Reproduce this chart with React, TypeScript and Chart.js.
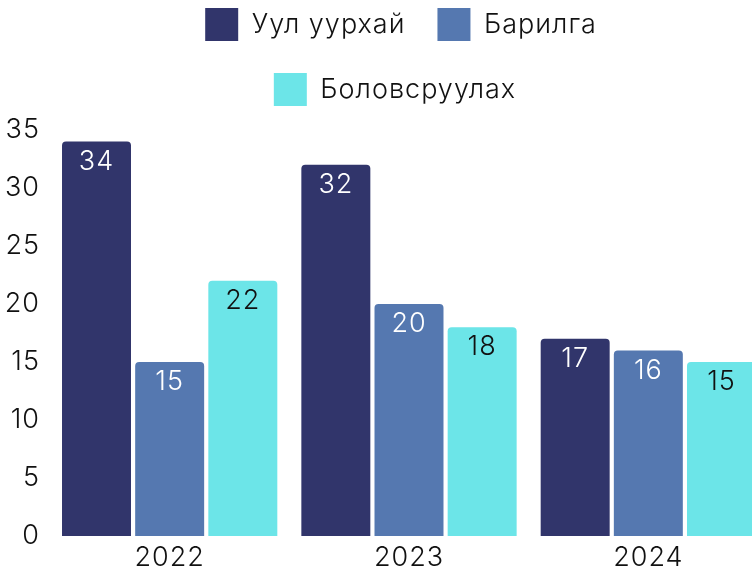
import React, { useEffect, useRef } from "react";
import { Chart, registerables } from "chart.js";

Chart.register(...registerables);

const categories = ["2022", "2023", "2024"];
const seriesNames = ["Уул уурхай", "Барилга", "Боловсруулах"];
const miningValues = [34, 32, 17];
const constructionValues = [15, 20, 16];
const manufacturingValues = [22, 18, 15];
const seriesColors = ["#31356b", "#5578b0", "#6ce5e8"];
const labelColors = ["#ffffff", "#ffffff", "#111111"];
const yTicks = [0, 5, 10, 15, 20, 25, 30, 35];

const FONT = "Inter";
const FS = 27;
const WEIGHT = "300";
const SPACING = "1px";

export default function App() {
  const ref = useRef<HTMLCanvasElement>(null);

  useEffect(() => {
    const canvas = ref.current;
    if (!canvas) return;

    const dataLabels = {
      id: "dataLabels",
      afterDatasetsDraw(chart: any) {
        const ctx = chart.ctx;
        ctx.save();
        ctx.font = `${WEIGHT} ${FS}px ${FONT}`;
        ctx.textAlign = "center";
        ctx.textBaseline = "middle";
        chart.data.datasets.forEach((ds: any, di: number) => {
          const meta = chart.getDatasetMeta(di);
          meta.data.forEach((el: any, i: number) => {
            ctx.fillStyle = labelColors[di];
            ctx.fillText(String(ds.data[i]), el.x, el.y + 20);
          });
        });
        ctx.restore();
      },
    };

    const spacing = {
      id: "spacing",
      beforeLayout(chart: any) {
        chart.ctx.letterSpacing = SPACING;
      },
      beforeDraw(chart: any) {
        chart.ctx.letterSpacing = SPACING;
      },
    };

    const rowShift = [34, 22];
    const legendPatch = {
      id: "legendPatch",
      afterInit(chart: any) {
        const lg = chart.legend;
        if (!lg || lg._patched) return;
        const orig = lg.fit.bind(lg);
        lg.fit = function () {
          const mw = this.maxWidth;
          this.maxWidth = 640;
          orig();
          this.maxWidth = mw;
          this.width = mw;
          this.height = 154;
          this.lineWidths = this.lineWidths.map(
            (w: number, i: number) => w - (rowShift[i] || 0)
          );
        };
        lg._patched = true;
      },
    };

    const chart = new Chart(canvas, {
      type: "bar",
      data: {
        labels: categories,
        datasets: [miningValues, constructionValues, manufacturingValues].map(
          (vals, i) => ({
            label: seriesNames[i],
            data: vals,
            backgroundColor: seriesColors[i],
            borderRadius: 4,
            borderSkipped: "bottom",
            categoryPercentage: 0.917,
            barPercentage: 0.943,
          })
        ),
      },
      options: {
        responsive: false,
        animation: false,
        layout: { padding: { left: 0, right: 32, top: 0, bottom: 0 } },
        plugins: {
          tooltip: { enabled: false },
          legend: {
            display: true,
            position: "top",
            align: "center",
            labels: {
              boxWidth: 33,
              boxHeight: 33,
              padding: 32,
              color: "#111111",
              font: { family: FONT, size: FS, weight: WEIGHT },
            },
          },
        },
        scales: {
          x: {
            grid: { display: false, drawTicks: false },
            border: { display: false },
            ticks: {
              color: "#111111",
              padding: 6,
              font: { family: FONT, size: FS, weight: WEIGHT },
            },
            afterFit(scale: any) {
              scale.height = 38;
            },
          },
          y: {
            min: 0,
            max: 35,
            grid: { display: false, drawTicks: false },
            border: { display: false },
            afterBuildTicks(scale: any) {
              scale.ticks = yTicks.map((v) => ({ value: v }));
            },
            ticks: {
              color: "#111111",
              padding: 10,
              font: { family: FONT, size: FS, weight: WEIGHT },
            },
            afterFit(scale: any) {
              scale.width = 50;
            },
          },
        },
      },
      plugins: [spacing, dataLabels, legendPatch],
    } as any);

    return () => chart.destroy();
  }, []);

  return (
    <div
      style={{
        position: "fixed",
        left: 0,
        top: 0,
        width: 752,
        height: 574,
        overflow: "hidden",
        background: "#ffffff",
      }}
    >
      <canvas
        ref={ref}
        width={800}
        height={598}
        style={{ position: "absolute", left: 0, top: -24, width: 800, height: 598 }}
      />
    </div>
  );
}
